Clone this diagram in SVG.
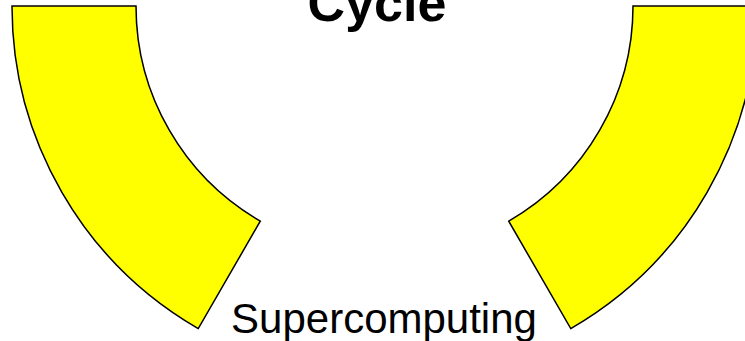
<svg xmlns="http://www.w3.org/2000/svg" width="745" height="341" viewBox="0 0 745 341">
<style>
.seg{fill:#FFFF00;stroke:#000;stroke-width:1.5;stroke-linejoin:miter}
.t{font-family:"Liberation Sans",Arial,sans-serif;fill:#000}
</style>
<rect width="745" height="341" fill="#fff"/>
<g id="segment-left">
<path class="seg" d="M 12,6 A 372.5 372.5 0 0 0 198.25,328.6 L 260.25,221.2 A 248.5 248.5 0 0 1 136,6 Z"/>
</g>
<g id="segment-right">
<path class="seg" d="M 633,6 A 248.5 248.5 0 0 1 508.75,221.2 L 570.75,328.6 A 372.5 372.5 0 0 0 757,6 Z"/>
</g>
<g id="title">
<text class="t" x="377" y="21" font-size="52" font-weight="bold" text-anchor="middle">Cycle</text>
</g>
<g id="label-supercomputing">
<text class="t" x="384" y="333" font-size="42" text-anchor="middle">Supercomputing</text>
</g>
<g id="connectors"></g>
</svg>
